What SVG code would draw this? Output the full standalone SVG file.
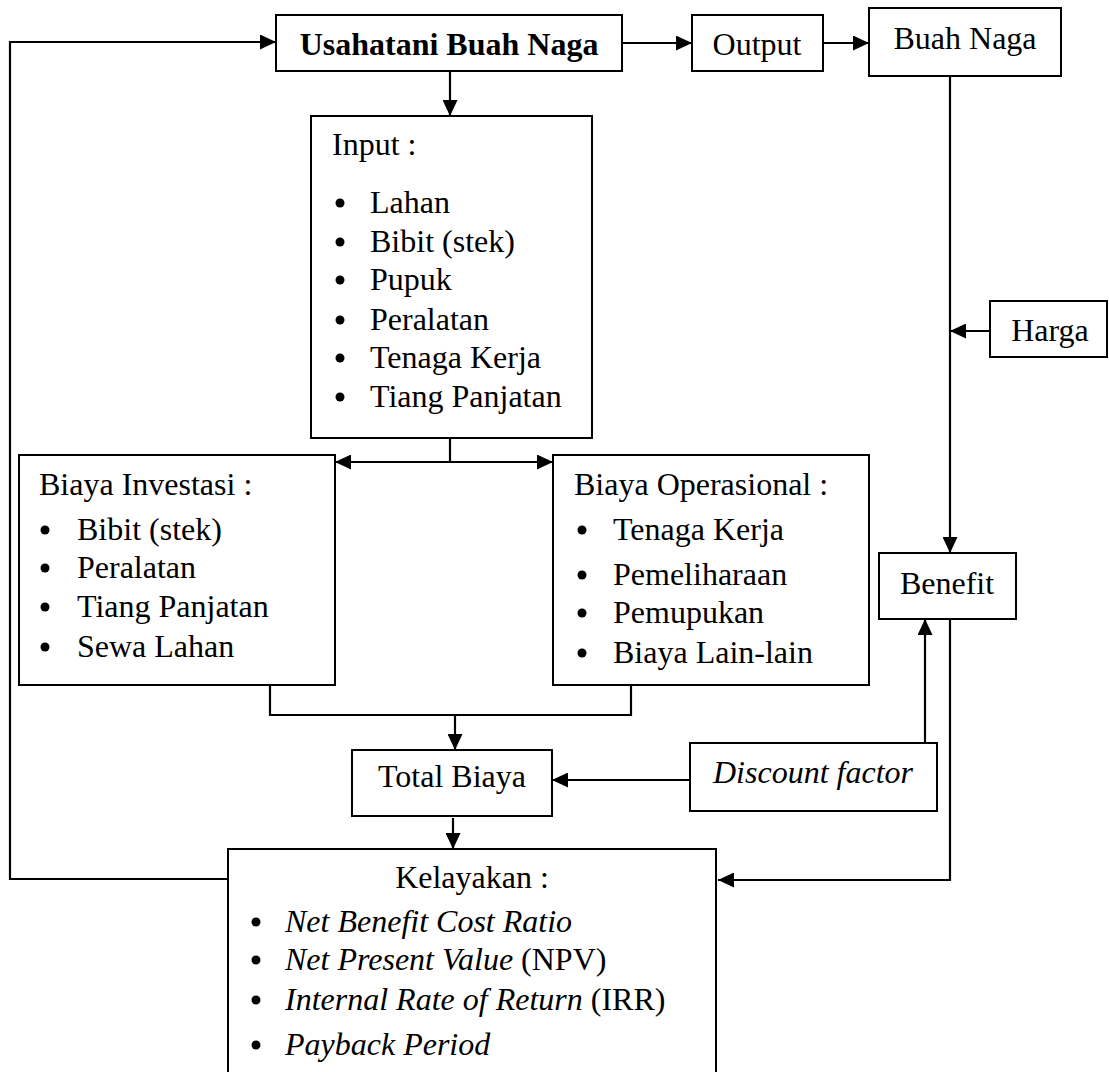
<svg xmlns="http://www.w3.org/2000/svg" width="1109" height="1072" viewBox="0 0 1109 1072">
<style>
.box{fill:#fff;stroke:#000;stroke-width:2}
.t{font-family:"Liberation Serif","Times New Roman",serif;font-size:32px;fill:#000}
.b{font-weight:bold}
.i{font-style:italic}
.c{text-anchor:middle}
.ln{fill:none;stroke:#000;stroke-width:2.2}
.ar{marker-end:url(#ah)}
.bul{fill:#000}
</style>
<defs>
<marker id="ah" markerUnits="userSpaceOnUse" markerWidth="17" markerHeight="15" refX="16" refY="7.5" orient="auto-start-reverse">
<path d="M0,0 L16,7.5 L0,15 z" fill="#000"/>
</marker>
</defs>
<rect width="1109" height="1072" fill="#fff"/>
<g id="connectors">
<path class="ln ar" d="M228,879 H10 V42 H276"/>
<path class="ln ar" d="M622,43 H692"/>
<path class="ln ar" d="M823,43 H869"/>
<path class="ln ar" d="M450,71 V116"/>
<path class="ln" d="M450,438 V462"/>
<path class="ln" d="M335,462 H553" style="marker-start:url(#ah);marker-end:url(#ah)"/>
<path class="ln" d="M270,685 V715 H631 V685"/>
<path class="ln ar" d="M455,715 V750"/>
<path class="ln ar" d="M950,76 V553"/>
<path class="ln ar" d="M990,331 H950"/>
<path class="ln ar" d="M925,743 V619"/>
<path class="ln ar" d="M690,780 H552"/>
<path class="ln ar" d="M453,818 V849"/>
<path class="ln ar" d="M950,619 V880 H718"/>
</g>
<g id="usahatani">
<rect class="box" x="276" y="15" width="346" height="56"/>
<text class="t b c" x="449" y="55">Usahatani Buah Naga</text>
</g>
<g id="output">
<rect class="box" x="692" y="15" width="131" height="56"/>
<text class="t c" x="757" y="55">Output</text>
</g>
<g id="buah-naga">
<rect class="box" x="869" y="8" width="192" height="68"/>
<text class="t c" x="965" y="49">Buah Naga</text>
</g>
<g id="input">
<rect class="box" x="311" y="116" width="281" height="322"/>
<text class="t" x="332" y="155">Input :</text>
<circle class="bul" cx="340" cy="203" r="4.5"/><text class="t" x="370" y="213">Lahan</text>
<circle class="bul" cx="340" cy="242" r="4.5"/><text class="t" x="370" y="252">Bibit (stek)</text>
<circle class="bul" cx="340" cy="280" r="4.5"/><text class="t" x="370" y="290">Pupuk</text>
<circle class="bul" cx="340" cy="320" r="4.5"/><text class="t" x="370" y="330">Peralatan</text>
<circle class="bul" cx="340" cy="358" r="4.5"/><text class="t" x="370" y="368">Tenaga Kerja</text>
<circle class="bul" cx="340" cy="397" r="4.5"/><text class="t" x="370" y="407">Tiang Panjatan</text>
</g>
<g id="harga">
<rect class="box" x="990" y="301" width="117" height="56"/>
<text class="t c" x="1050" y="341">Harga</text>
</g>
<g id="biaya-investasi">
<rect class="box" x="19" y="455" width="316" height="230"/>
<text class="t" x="39" y="495">Biaya Investasi :</text>
<circle class="bul" cx="45" cy="530" r="4.5"/><text class="t" x="77" y="540">Bibit (stek)</text>
<circle class="bul" cx="45" cy="568" r="4.5"/><text class="t" x="77" y="578">Peralatan</text>
<circle class="bul" cx="45" cy="607" r="4.5"/><text class="t" x="77" y="617">Tiang Panjatan</text>
<circle class="bul" cx="45" cy="647" r="4.5"/><text class="t" x="77" y="657">Sewa Lahan</text>
</g>
<g id="biaya-operasional">
<rect class="box" x="553" y="455" width="316" height="230"/>
<text class="t" x="574" y="495">Biaya Operasional :</text>
<circle class="bul" cx="582" cy="530" r="4.5"/><text class="t" x="613" y="540">Tenaga Kerja</text>
<circle class="bul" cx="582" cy="575" r="4.5"/><text class="t" x="613" y="585">Pemeliharaan</text>
<circle class="bul" cx="582" cy="613" r="4.5"/><text class="t" x="613" y="623">Pemupukan</text>
<circle class="bul" cx="582" cy="653" r="4.5"/><text class="t" x="613" y="663">Biaya Lain-lain</text>
</g>
<g id="benefit">
<rect class="box" x="879" y="553" width="137" height="66"/>
<text class="t c" x="947" y="594">Benefit</text>
</g>
<g id="discount-factor">
<rect class="box" x="690" y="743" width="247" height="68"/>
<text class="t i c" x="813" y="783">Discount factor</text>
</g>
<g id="total-biaya">
<rect class="box" x="352" y="750" width="200" height="66"/>
<text class="t c" x="452" y="787">Total Biaya</text>
</g>
<g id="kelayakan">
<rect class="box" x="228" y="849" width="488" height="240"/>
<text class="t c" x="472" y="888">Kelayakan :</text>
<circle class="bul" cx="256" cy="922" r="4.5"/><text class="t i" x="285" y="932">Net Benefit Cost Ratio</text>
<circle class="bul" cx="256" cy="960" r="4.5"/><text class="t" x="285" y="970"><tspan class="i">Net Present Value</tspan> (NPV)</text>
<circle class="bul" cx="256" cy="1000" r="4.5"/><text class="t" x="285" y="1010"><tspan class="i">Internal Rate of Return</tspan> (IRR)</text>
<circle class="bul" cx="256" cy="1045" r="4.5"/><text class="t i" x="285" y="1055">Payback Period</text>
</g>
</svg>
